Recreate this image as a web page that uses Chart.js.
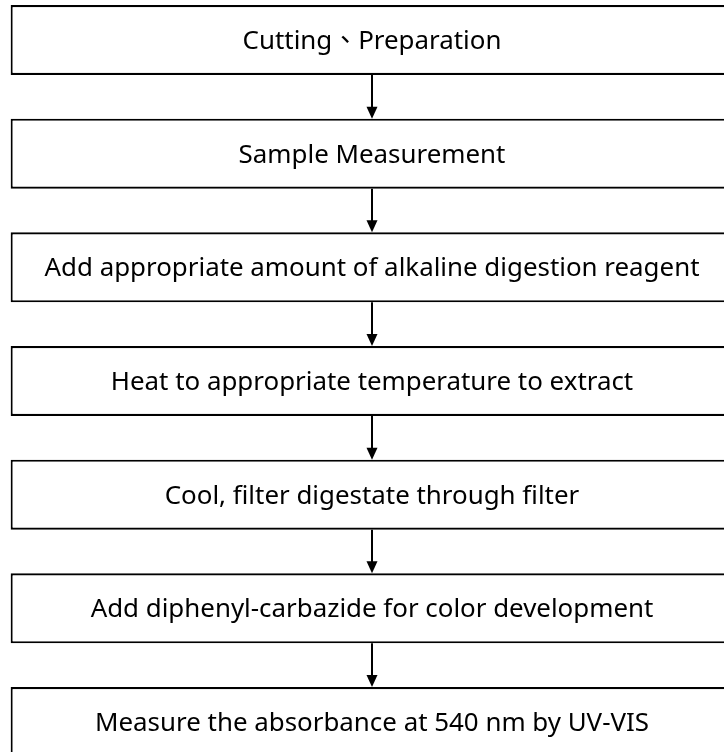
<!DOCTYPE html>
<html>
<head>
<meta charset="utf-8">
<script src="https://cdn.jsdelivr.net/npm/chart.js@4"></script>
<style>
  html, body { margin: 0; padding: 0; background: #fff; overflow: hidden; width: 724px; height: 752px; }
  #wrap { position: absolute; left: 0; top: -17px; width: 740px; height: 796px; }
</style>
</head>
<body>
<div id="wrap"><canvas id="c"></canvas></div>
<script>
const steps = [
  "Cutting\u3001Preparation",
  "Sample Measurement",
  "Add appropriate amount of alkaline digestion reagent",
  "Heat to appropriate temperature to extract",
  "Cool, filter digestate through filter",
  "Add diphenyl-carbazide for color development",
  "Measure the absorbance at 540 nm by UV-VIS"
];
const boxValues = [1, 1, 1, 1, 1, 1, 1];

const flowPlugin = {
  id: 'flow',
  afterDatasetsDraw(chart) {
    const ctx = chart.ctx;
    const meta = chart.getDatasetMeta(0);
    ctx.save();
    // arrows
    ctx.strokeStyle = '#000';
    ctx.fillStyle = '#000';
    ctx.lineWidth = 2;
    for (let i = 0; i < meta.data.length - 1; i++) {
      const a = meta.data[i], b = meta.data[i + 1];
      const cx = Math.round((a.x + a.base) / 2);
      const y0 = a.y + a.height / 2;
      const y1 = b.y - b.height / 2;
      ctx.beginPath();
      ctx.moveTo(cx, y0);
      ctx.lineTo(cx, y1 - 10);
      ctx.stroke();
      ctx.beginPath();
      ctx.moveTo(cx - 5.5, y1 - 12);
      ctx.lineTo(cx + 5.5, y1 - 12);
      ctx.lineTo(cx, y1);
      ctx.closePath();
      ctx.fill();
    }
    // labels
    ctx.fillStyle = '#000';
    ctx.font = '25.9px "Noto Sans", "Noto Sans CJK TC"';
    ctx.textAlign = 'center';
    ctx.textBaseline = 'middle';
    meta.data.forEach((el, i) => {
      const cx = (el.x + el.base) / 2;
      ctx.fillText(chart.data.labels[i], cx, el.y + 1.5);
    });
    ctx.restore();
  }
};

new Chart(document.getElementById('c'), {
  type: 'bar',
  data: {
    labels: steps,
    datasets: [{
      data: boxValues,
      backgroundColor: '#fff',
      borderColor: '#000',
      borderWidth: 2.2,
      borderSkipped: false,
      categoryPercentage: 1,
      barPercentage: 0.616
    }]
  },
  options: {
    indexAxis: 'y',
    responsive: true,
    maintainAspectRatio: false,
    animation: false,
    layout: { padding: { left: 10.5, right: 6.5, top: 0.17, bottom: 0.16 } },
    plugins: { legend: { display: false }, tooltip: { enabled: false } },
    scales: {
      x: { type: 'linear', min: 0, max: 1, display: false },
      y: { type: 'category', display: false, offset: true }
    }
  },
  plugins: [flowPlugin]
});
</script>
</body>
</html>
